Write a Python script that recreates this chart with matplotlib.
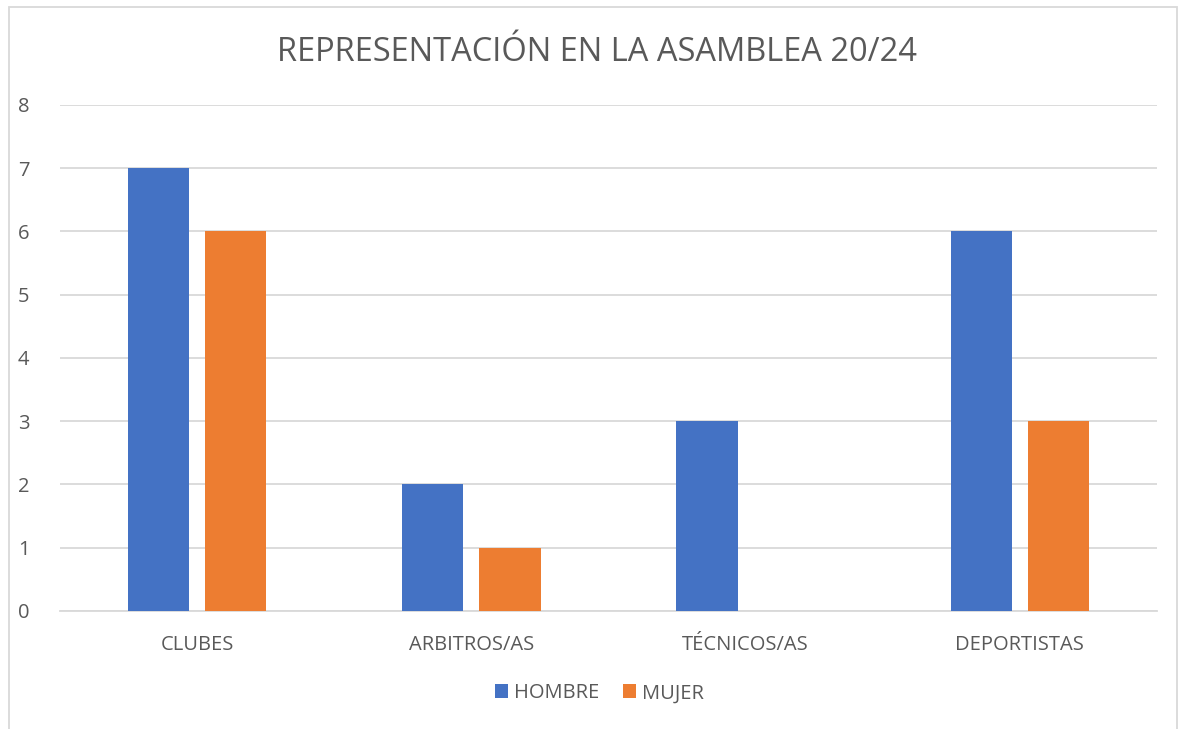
import numpy as np
import matplotlib.pyplot as plt
from matplotlib.patches import Rectangle

categories = ["CLUBES", "ARBITROS/AS", "TÉCNICOS/AS", "DEPORTISTAS"]
hombre = [7, 2, 3, 6]
mujer = [6, 1, 0, 3]
yticks = [0, 1, 2, 3, 4, 5, 6, 7, 8]

BLUE = "#4472C4"
ORANGE = "#ED7D31"
TEXT = "#595959"
GRID = "#D9D9D9"

plt.rcParams["font.family"] = ["Open Sans", "DejaVu Sans"]

fig = plt.figure(figsize=(11.8, 7.29), dpi=100)
ax = fig.add_axes([0.0508, 0.1619, 0.9297, 0.6941])

x = np.arange(len(categories))
w = 0.223
off = 0.141
ax.bar(x - off, hombre, width=w, color=BLUE, label="HOMBRE", zorder=3)
ax.bar(x + off, mujer, width=w, color=ORANGE, label="MUJER", zorder=3)

ax.set_xlim(-0.5, len(categories) - 0.5)
ax.set_ylim(0, 8)
ax.set_yticks(yticks)
ax.set_xticks(x)
ax.set_xticklabels(categories)
ax.yaxis.grid(True, color=GRID, linewidth=1.3, zorder=0)
ax.set_axisbelow(True)
for s in ["top", "right", "left"]:
    ax.spines[s].set_visible(False)
ax.spines["bottom"].set_color(GRID)
ax.spines["bottom"].set_linewidth(1.3)
ax.tick_params(axis="both", length=0, labelsize=14.5, colors=TEXT)
ax.tick_params(axis="x", pad=17)
ax.tick_params(axis="y", pad=22)

fig.text(0.506, 0.928, "REPRESENTACIÓN EN LA ASAMBLEA 20/24", ha="center", va="center",
         fontsize=23.5, color=TEXT)

fig.legend(loc="center", bbox_to_anchor=(0.508, 0.049), ncol=2, frameon=False,
           fontsize=14.5, labelcolor=TEXT, handlelength=0.65, handleheight=0.65,
           handletextpad=0.3, columnspacing=1.2)

fig.patches.append(Rectangle((9 / 1180, -0.01), 1168 / 1180, 1 - 7 / 729 + 0.01,
                             transform=fig.transFigure, fill=False,
                             edgecolor="#D9D9D9", linewidth=1.3))

fig.savefig("out.png", dpi=100)
